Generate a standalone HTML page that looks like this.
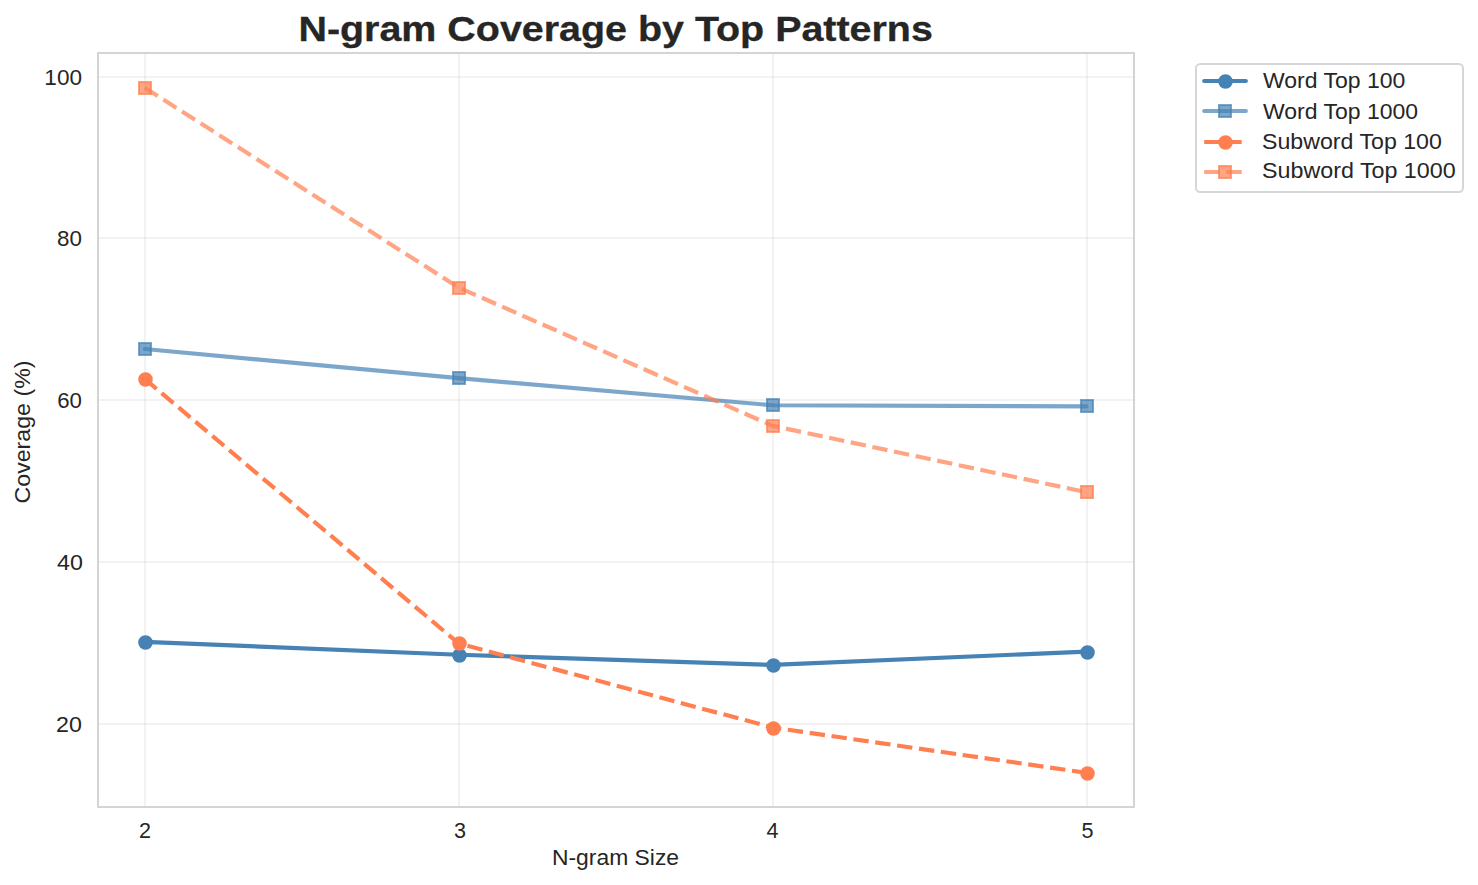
<!DOCTYPE html><html><head><meta charset="utf-8"><title>N-gram Coverage by Top Patterns</title><style>html,body{margin:0;padding:0;background:#fff;overflow:hidden;width:1478px;height:885px;}svg{display:block;}text{font-family:"Liberation Sans",sans-serif;fill:#262626;}</style></head><body>
<svg width="1478" height="885" viewBox="0 0 1478 885">
<rect x="0" y="0" width="1478" height="885" fill="#ffffff"/>
<g stroke="#cccccc" stroke-opacity="0.255" stroke-width="2" fill="none">
<line x1="145" y1="54" x2="145" y2="806"/>
<line x1="459" y1="54" x2="459" y2="806"/>
<line x1="773" y1="54" x2="773" y2="806"/>
<line x1="1087" y1="54" x2="1087" y2="806"/>
<line x1="99" y1="77" x2="1133" y2="77"/>
<line x1="99" y1="238" x2="1133" y2="238"/>
<line x1="99" y1="400" x2="1133" y2="400"/>
<line x1="99" y1="562" x2="1133" y2="562"/>
<line x1="99" y1="724" x2="1133" y2="724"/>
</g>
<polyline points="144.757,641.800 458.690,654.741 772.623,664.900 1086.556,651.600" fill="none" stroke="#4682b4" stroke-opacity="1" stroke-width="4.1667" stroke-linecap="round" stroke-linejoin="round"/>
<circle cx="145.50" cy="642.50" r="6.25" fill="#4682b4" fill-opacity="1" stroke="#4682b4" stroke-opacity="1" stroke-width="2.0833"/>
<circle cx="459.50" cy="655.50" r="6.25" fill="#4682b4" fill-opacity="1" stroke="#4682b4" stroke-opacity="1" stroke-width="2.0833"/>
<circle cx="773.50" cy="665.50" r="6.25" fill="#4682b4" fill-opacity="1" stroke="#4682b4" stroke-opacity="1" stroke-width="2.0833"/>
<circle cx="1087.50" cy="652.50" r="6.25" fill="#4682b4" fill-opacity="1" stroke="#4682b4" stroke-opacity="1" stroke-width="2.0833"/>
<polyline points="144.757,349.005 458.690,378.122 772.623,405.250 1086.556,406.431" fill="none" stroke="#4682b4" stroke-opacity="0.7" stroke-width="4.1667" stroke-linecap="round" stroke-linejoin="round"/>
<rect x="139.00" y="343.00" width="12" height="12" fill="#4682b4" fill-opacity="0.7" stroke="#4682b4" stroke-opacity="0.7" stroke-width="2"/>
<rect x="453.00" y="372.00" width="12" height="12" fill="#4682b4" fill-opacity="0.7" stroke="#4682b4" stroke-opacity="0.7" stroke-width="2"/>
<rect x="767.00" y="399.00" width="12" height="12" fill="#4682b4" fill-opacity="0.7" stroke="#4682b4" stroke-opacity="0.7" stroke-width="2"/>
<rect x="1081.00" y="400.00" width="12" height="12" fill="#4682b4" fill-opacity="0.7" stroke="#4682b4" stroke-opacity="0.7" stroke-width="2"/>
<polyline points="144.757,378.931 458.690,643.417 772.623,727.535 1086.556,772.830" fill="none" stroke="#ff7f50" stroke-opacity="1" stroke-width="4.1667" stroke-dasharray="15.417 6.667" stroke-linecap="butt" stroke-linejoin="round"/>
<circle cx="145.50" cy="379.50" r="6.25" fill="#ff7f50" fill-opacity="1" stroke="#ff7f50" stroke-opacity="1" stroke-width="2.0833"/>
<circle cx="459.50" cy="643.50" r="6.25" fill="#ff7f50" fill-opacity="1" stroke="#ff7f50" stroke-opacity="1" stroke-width="2.0833"/>
<circle cx="773.50" cy="728.50" r="6.25" fill="#ff7f50" fill-opacity="1" stroke="#ff7f50" stroke-opacity="1" stroke-width="2.0833"/>
<circle cx="1087.50" cy="773.50" r="6.25" fill="#ff7f50" fill-opacity="1" stroke="#ff7f50" stroke-opacity="1" stroke-width="2.0833"/>
<polyline points="144.757,87.754 458.690,287.534 772.623,425.843 1086.556,492.167" fill="none" stroke="#ff7f50" stroke-opacity="0.7" stroke-width="4.1667" stroke-dasharray="15.417 6.667" stroke-linecap="butt" stroke-linejoin="round"/>
<rect x="139.00" y="82.00" width="12" height="12" fill="#ff7f50" fill-opacity="0.7" stroke="#ff7f50" stroke-opacity="0.7" stroke-width="2"/>
<rect x="453.00" y="282.00" width="12" height="12" fill="#ff7f50" fill-opacity="0.7" stroke="#ff7f50" stroke-opacity="0.7" stroke-width="2"/>
<rect x="767.00" y="420.00" width="12" height="12" fill="#ff7f50" fill-opacity="0.7" stroke="#ff7f50" stroke-opacity="0.7" stroke-width="2"/>
<rect x="1081.00" y="486.00" width="12" height="12" fill="#ff7f50" fill-opacity="0.7" stroke="#ff7f50" stroke-opacity="0.7" stroke-width="2"/>
<rect x="98" y="53" width="1036" height="754" fill="none" stroke="#d4d4d4" stroke-width="2"/>
<rect x="1196.00" y="64.00" width="267.00" height="128.00" rx="4.17" ry="4.17" fill="#ffffff" fill-opacity="0.8" stroke="#d6d6d6" stroke-width="2"/>
<line x1="1204.195" y1="81.000" x2="1245.861" y2="81.000" stroke="#4682b4" stroke-opacity="1" stroke-width="4.1667" stroke-linecap="round"/>
<circle cx="1225.50" cy="81.50" r="6.25" fill="#4682b4" fill-opacity="1" stroke="#4682b4" stroke-opacity="1" stroke-width="2.0833"/>
<line x1="1204.195" y1="111.000" x2="1245.861" y2="111.000" stroke="#4682b4" stroke-opacity="0.7" stroke-width="4.1667" stroke-linecap="round"/>
<rect x="1219.00" y="105.00" width="12" height="12" fill="#4682b4" fill-opacity="0.7" stroke="#4682b4" stroke-opacity="0.7" stroke-width="2"/>
<line x1="1204.195" y1="142.000" x2="1245.861" y2="142.000" stroke="#ff7f50" stroke-opacity="1" stroke-width="4.1667" stroke-dasharray="15.417 6.667" stroke-linecap="butt"/>
<circle cx="1225.50" cy="142.50" r="6.25" fill="#ff7f50" fill-opacity="1" stroke="#ff7f50" stroke-opacity="1" stroke-width="2.0833"/>
<line x1="1204.195" y1="172.000" x2="1245.861" y2="172.000" stroke="#ff7f50" stroke-opacity="0.7" stroke-width="4.1667" stroke-dasharray="15.417 6.667" stroke-linecap="butt"/>
<rect x="1219.00" y="166.00" width="12" height="12" fill="#ff7f50" fill-opacity="0.7" stroke="#ff7f50" stroke-opacity="0.7" stroke-width="2"/>
<text x="615.66" y="41.00" font-size="35.00" text-anchor="middle" font-weight="bold" stroke="#262626" stroke-width="0.30" stroke-linejoin="round" textLength="634.42" lengthAdjust="spacingAndGlyphs">N-gram Coverage by Top Patterns</text>
<text x="82.00" y="84.50" font-size="21.60" text-anchor="end" textLength="37.66" lengthAdjust="spacingAndGlyphs">100</text>
<text x="82.00" y="245.50" font-size="21.60" text-anchor="end" textLength="24.88" lengthAdjust="spacingAndGlyphs">80</text>
<text x="82.00" y="407.50" font-size="21.60" text-anchor="end" textLength="24.74" lengthAdjust="spacingAndGlyphs">60</text>
<text x="83.00" y="569.50" font-size="21.60" text-anchor="end" textLength="25.87" lengthAdjust="spacingAndGlyphs">40</text>
<text x="82.00" y="731.50" font-size="21.60" text-anchor="end" textLength="25.87" lengthAdjust="spacingAndGlyphs">20</text>
<text x="145.00" y="837.50" font-size="21.60" text-anchor="middle">2</text>
<text x="460.00" y="837.50" font-size="21.60" text-anchor="middle">3</text>
<text x="772.50" y="837.50" font-size="21.60" text-anchor="middle">4</text>
<text x="1087.50" y="837.50" font-size="21.60" text-anchor="middle">5</text>
<text x="615.50" y="865.20" font-size="21.60" text-anchor="middle" textLength="127.15" lengthAdjust="spacingAndGlyphs">N-gram Size</text>
<text x="29.50" y="432.00" font-size="21.60" text-anchor="middle" textLength="142.97" lengthAdjust="spacingAndGlyphs" transform="rotate(-90 29.50 432.00)">Coverage (%)</text>
<text x="1263.00" y="87.80" font-size="21.60" textLength="142.32" lengthAdjust="spacingAndGlyphs">Word Top 100</text>
<text x="1263.00" y="118.70" font-size="21.60" textLength="155.11" lengthAdjust="spacingAndGlyphs">Word Top 1000</text>
<text x="1262.00" y="148.60" font-size="21.60" textLength="179.86" lengthAdjust="spacingAndGlyphs">Subword Top 100</text>
<text x="1262.00" y="178.00" font-size="21.60" textLength="193.64" lengthAdjust="spacingAndGlyphs">Subword Top 1000</text>
</svg></body></html>
